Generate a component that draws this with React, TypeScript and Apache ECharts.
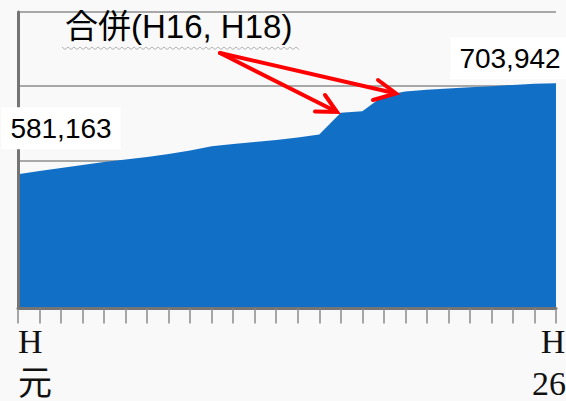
import React, { useEffect, useRef } from "react";
import * as echarts from "echarts";

// Heisei years H元 (1989) .. H26 (2014)
const categories = [
  "元", "2", "3", "4", "5", "6", "7", "8", "9", "10", "11", "12", "13",
  "14", "15", "16", "17", "18", "19", "20", "21", "22", "23", "24", "25", "26",
];

const populationValues = [
  581163, 585400, 589500, 593500, 597600, 600900, 604300, 608400, 613100,
  618900, 621900, 624600, 627300, 630600, 634700, 664000, 666100, 687300,
  692700, 695100, 696800, 698400, 700000, 701600, 703100, 703942,
];

const yTicks = { min: 400000, max: 800000, interval: 100000 };

const titleText = "合併(H16, H18)";

export default function App() {
  const ref = useRef<HTMLDivElement>(null);

  useEffect(() => {
    if (!ref.current) return;
    const chart = echarts.init(ref.current, null, { renderer: "svg" });
    const last = categories.length - 1;

    const squiggle: number[][] = [];
    for (let x = 62, k = 0; x <= 300; x += 3, k++) {
      squiggle.push([x, k % 2 === 0 ? 47 : 49.5]);
    }

    const serif = "'Liberation Serif', 'Noto Sans CJK JP', serif";
    const lbl = { fontFamily: serif, fontSize: 34, lineHeight: 42, color: "#111" };

    chart.setOption({
      animation: false,
      backgroundColor: "#f9f9f9",
      grid: {
        left: 18,
        right: 10,
        top: 12,
        bottom: 92.5,
        containLabel: false,
        outerBoundsMode: "none",
      },
      xAxis: {
        type: "category",
        data: categories,
        boundaryGap: false,
        z: 3,
        axisLine: { show: true, lineStyle: { color: "#747474", width: 3 } },
        axisTick: {
          show: true,
          interval: 0,
          length: 15,
          lineStyle: { color: "#8a8a8a", width: 1.5 },
        },
        axisLabel: {
          interval: 0,
          hideOverlap: false,
          margin: 12,
          ...lbl,
          alignMinLabel: "left",
          alignMaxLabel: "center",
          formatter: (v: string, i: number) => {
            if (i === 0) return "{a|H}\n{a|" + v + "}";
            if (i === last) return "{c|H}\n{b|" + v + "}";
            return "";
          },
          rich: {
            a: { ...lbl },
            b: { ...lbl, padding: [0, 14, 0, 0] },
            c: { ...lbl, padding: [0, 6, 0, 0] },
          },
        },
        splitLine: { show: false },
      },
      yAxis: {
        type: "value",
        min: yTicks.min,
        max: yTicks.max,
        interval: yTicks.interval,
        z: 3,
        axisLine: { show: true, lineStyle: { color: "#747474", width: 3 } },
        axisTick: { show: false },
        axisLabel: { show: false },
        splitLine: { show: true, lineStyle: { color: "#8c8c8c", width: 1.5 } },
      },
      series: [
        {
          type: "line",
          data: populationValues,
          showSymbol: false,
          symbol: "none",
          lineStyle: { width: 0 },
          areaStyle: { color: "#116fc6", opacity: 1 },
          silent: true,
          markPoint: {
            symbol: "circle",
            symbolSize: 0,
            silent: true,
            label: {
              show: true,
              position: "inside",
              color: "#000",
              fontFamily: "'Liberation Sans', Arial, sans-serif",
              fontSize: 28,
              lineHeight: 28,
              backgroundColor: "#ffffff",
              padding: [7, 9],
              formatter: (p: any) => Number(p.value).toLocaleString("en-US"),
            },
            data: [
              { type: "min", label: { offset: [43, -46] } },
              { type: "max", label: { offset: [-46, -25] } },
            ],
          },
        },
      ],
      graphic: [
        {
          type: "text",
          left: 65,
          top: 10,
          z: 100,
          style: {
            text: titleText,
            fill: "#000",
            font: "33px 'Liberation Sans', 'Noto Sans CJK JP', sans-serif",
          },
        },
        {
          type: "polyline",
          z: 99,
          shape: { points: squiggle },
          style: { stroke: "#b4b4b4", lineWidth: 1, fill: null },
        },
        {
          type: "line",
          z: 100,
          shape: { x1: 220, y1: 53, x2: 335, y2: 111 },
          style: { stroke: "#ff0000", lineWidth: 4, lineCap: "round" },
        },
        {
          type: "polyline",
          z: 100,
          shape: { points: [[325, 95], [337, 112], [315, 111.5]] },
          style: { stroke: "#ff0000", lineWidth: 4, fill: null, lineJoin: "miter", lineCap: "round" },
        },
        {
          type: "line",
          z: 100,
          shape: { x1: 220, y1: 53, x2: 394, y2: 93 },
          style: { stroke: "#ff0000", lineWidth: 4, lineCap: "round" },
        },
        {
          type: "polyline",
          z: 100,
          shape: { points: [[378, 80], [396, 93.5], [373, 100]] },
          style: { stroke: "#ff0000", lineWidth: 4, fill: null, lineJoin: "miter", lineCap: "round" },
        },
      ],
    });

    return () => chart.dispose();
  }, []);

  return (
    <div
      ref={ref}
      style={{ position: "fixed", left: 0, top: 0, width: 566, height: 401 }}
    />
  );
}
